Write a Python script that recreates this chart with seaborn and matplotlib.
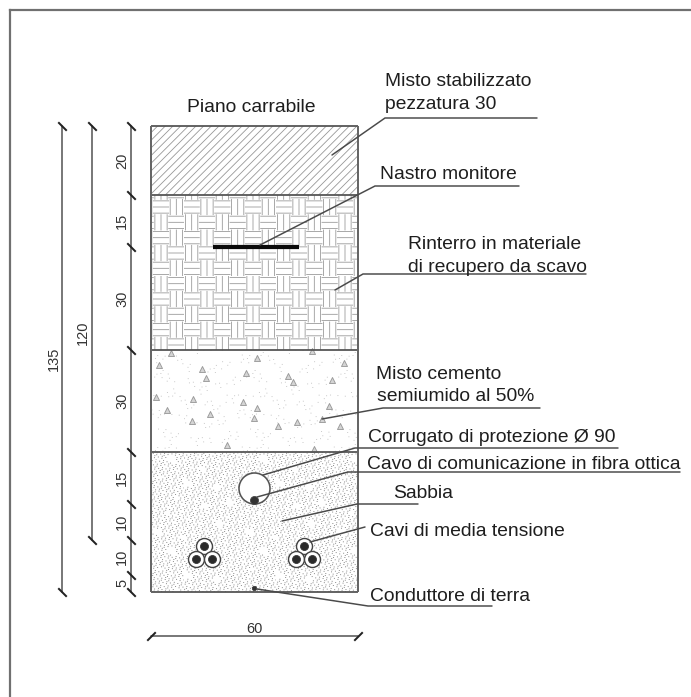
import numpy as np
import pandas as pd
import matplotlib
matplotlib.use("Agg")
import matplotlib.pyplot as plt
import matplotlib.hatch as mh
from matplotlib.path import Path
from matplotlib.transforms import Affine2D
import seaborn as sns

# ---- section data (cm) ----
layer_names = ["Misto stabilizzato", "Rinterro", "Misto cemento", "Sabbia"]
layer_thickness = [20, 45, 29.5, 40.5]
layer_hatch = ["////", "*", "o", "O"]
layer_hatch_color = ["#979797", "#9a9a9a", "#c2c2c2", "#7c7c7c"]
section_width = 60

chain_labels = ["20", "15", "30", "30", "15", "10", "10", "5"]
chain_steps = [20, 15, 30, 29.5, 15, 10.5, 10, 5]
overall_dims = [135, 120]

tape_x = [18, 43]
tape_depth = [35, 35]

conduit_x = [29.9]
conduit_depth = [104.8]
fibre_x = [29.9]
fibre_depth = [108.4]
cable_x = [15.3, 13.0, 17.6, 44.3, 42.0, 46.7]
cable_depth = [121.7, 125.6, 125.6, 121.7, 125.6, 125.6]
earth_x = [29.9]
earth_depth = [134.0]

aggregate_x = [5.7, 2.3, 14.9, 15.8, 27.4, 30.6, 39.8, 41.1, 52.4, 56.0, 1.4, 12.1, 4.7,
               17.1, 11.8, 26.6, 30.6, 29.9, 36.9, 42.2, 51.6, 49.5, 54.8, 22.1, 47.2, 46.8]
aggregate_depth = [65.9, 69.3, 70.4, 72.9, 71.5, 67.2, 72.5, 74.3, 73.6, 68.6, 78.5, 79.1, 82.3,
                   83.5, 85.4, 79.9, 81.8, 84.5, 86.9, 85.7, 81.2, 85.0, 86.9, 92.5, 93.7, 65.2]

# ---- annotation layout (figure pixels, y down) ----
labels = [
    ("Piano carrabile", 187, 112), ("Misto stabilizzato", 385, 86), ("pezzatura 30", 385, 109),
    ("Nastro monitore", 380, 179), ("Rinterro in materiale", 408, 249),
    ("di recupero da scavo", 408, 272), ("Misto cemento", 376, 379),
    ("semiumido al 50%", 377, 401), ("Corrugato di protezione Ø 90", 368, 442),
    ("Cavo di comunicazione in fibra ottica", 367, 469), ("Sabbia", 393, 498),
    ("Cavi di media tensione", 370, 536), ("Conduttore di terra", 370, 601),
]
leaders = [
    [(332, 155), (385, 118), (537, 118)],
    [(260, 245), (375, 186), (519, 186)],
    [(335, 290), (363, 274), (586, 274)],
    [(322, 419), (383, 408), (540, 408)],
    [(263, 475), (355, 448), (618, 448)],
    [(257, 497), (348, 472), (680, 472)],
    [(282, 521), (357, 504), (418, 504)],
    [(310, 542), (365, 527)],
    [(257, 589), (368, 606), (492, 606)],
]

W, H, DPI = 691, 697, 92
PX_PER_CM = 3.45
X0, Y0 = 151, 126   # pixel position of the section's top-left corner
FRAME = 10
PT = 72 / DPI       # points per pixel


# ---- custom drawing-style hatches ----
class Weave(mh.HatchPatternBase):
    blocks = 6
    fracs = (0.1, 0.5, 0.9)

    def __init__(self, hatch, density):
        self.on = "*" in hatch
        self.num_lines = self.blocks ** 2 * len(self.fracs) if self.on else 0
        self.num_vertices = self.num_lines * 2

    def set_vertices_and_codes(self, vertices, codes):
        b = 1 / self.blocks
        k = 0
        for i in range(self.blocks):
            for j in range(self.blocks):
                for f in self.fracs:
                    if (i + j) % 2:
                        a, c = ((i + f) * b, j * b), ((i + f) * b, (j + 1) * b)
                    else:
                        a, c = (i * b, (j + f) * b), ((i + 1) * b, (j + f) * b)
                    vertices[k], vertices[k + 1] = a, c
                    codes[k], codes[k + 1] = Path.MOVETO, Path.LINETO
                    k += 2


def stipple_points(count, threshold):
    idx = np.arange(1, count + 1)
    x = (idx * 0.7548776662) % 1
    y = (idx * 0.5698402910) % 1
    t = 2 * np.pi
    cloud = (np.sin(t * 3 * x + 1) * np.cos(t * 2 * y) + np.sin(t * 5 * y + 2 * np.sin(t * x))
             + 0.6 * np.cos(t * (4 * x + 3 * y)))
    keep = cloud > threshold
    return x[keep], y[keep]


class Stipple(mh.HatchPatternBase):
    char = "O"
    count = 1000
    threshold = -1.7

    def __init__(self, hatch, density):
        self.on = self.char in hatch
        if self.on:
            self.px, self.py = stipple_points(self.count, self.threshold)
            self.num_lines = len(self.px)
        else:
            self.num_lines = 0
        self.num_vertices = self.num_lines * 2

    def set_vertices_and_codes(self, vertices, codes):
        vertices[0::2, 0], vertices[0::2, 1] = self.px, self.py
        vertices[1::2, 0], vertices[1::2, 1] = self.px + 0.002, self.py
        codes[0::2] = Path.MOVETO
        codes[1::2] = Path.LINETO


class Sparse(Stipple):
    char = "o"
    count = 320
    threshold = 0.3


mh._hatch_types[:] = [h for h in mh._hatch_types
                      if h.__name__ in ("HorizontalHatch", "VerticalHatch",
                                        "NorthEastHatch", "SouthEastHatch")] + [Weave, Stipple, Sparse]

sns.set_theme(style="white")
plt.rcParams["font.family"] = ["Liberation Sans", "DejaVu Sans"]
plt.rcParams["hatch.linewidth"] = 0.65

fig = plt.figure(figsize=(W / DPI, H / DPI), dpi=DPI, facecolor="white")
ax = fig.add_axes([FRAME / W, 0, (W - FRAME) / W, (H - FRAME) / H])

layers = pd.DataFrame({"name": layer_names, "thickness": layer_thickness})
layers["top"] = layers["thickness"].cumsum().shift(fill_value=0)

for _, row in layers.iterrows():
    sns.barplot(x=[section_width / 2], y=[row["thickness"]], bottom=row["top"],
                width=section_width, native_scale=True, color="white",
                saturation=1, errorbar=None, ax=ax, zorder=1)
for patch, hatch, col in zip(ax.patches, layer_hatch, layer_hatch_color):
    patch.set_hatch(hatch)
    patch.set_facecolor("white")
    patch.set_edgecolor(col)
    patch.set_linewidth(0)

ax.set_xlim((FRAME - X0) / PX_PER_CM, (W - X0) / PX_PER_CM)
ax.set_ylim((H - Y0) / PX_PER_CM, (FRAME - Y0) / PX_PER_CM)
ax.set_xlabel("")
ax.set_ylabel("")
ax.set_xticks([])
ax.set_yticks([])
for side in ("bottom", "right"):
    ax.spines[side].set_visible(False)
for side in ("left", "top"):
    ax.spines[side].set_color("#707070")
    ax.spines[side].set_linewidth(2.2 * PT)

# section outline and layer boundaries
boundaries = np.r_[0, np.cumsum(layer_thickness)]
ax.hlines(boundaries, 0, section_width, color="#555555", lw=1.8 * PT, zorder=3)
ax.vlines([0, section_width], 0, boundaries[-1], color="#666666", lw=2.0 * PT, zorder=3)

# aggregate in the cement layer
sns.scatterplot(x=aggregate_x, y=aggregate_depth, marker="^", s=(6 * PT) ** 2,
                facecolor="#d4d4d4", edgecolor="#9a9a9a", linewidth=0.7, ax=ax, zorder=2)

# warning tape
ax.plot(tape_x, tape_depth, color="#0a0a0a", lw=4.2 * PT, solid_capstyle="butt", zorder=4)


def discs(xs, ys, diameter_px, face, edge, lw_px, z=4):
    sns.scatterplot(x=xs, y=ys, s=(diameter_px * PT) ** 2, facecolor=face, edgecolor=edge,
                    linewidth=lw_px * PT, ax=ax, zorder=z, legend=False)


discs(conduit_x, conduit_depth, 31, "white", "#555555", 1.6)
discs(fibre_x, fibre_depth, 8, "#333333", "#444444", 0.8, 5)
discs(cable_x, cable_depth, 16, "white", "#444444", 1.4)
discs(cable_x, cable_depth, 8, "#2a2a2a", "#333333", 0.8, 5)
discs(earth_x, earth_depth, 4.5, "#333333", "#333333", 0.6, 5)

# dimension lines
tick_v = Path([(-1, 1), (1, -1)])
tick_h = Path([(-1, -1), (1, 1)])
dim_kw = dict(color="#5a5a5a", lw=1.6 * PT, ms=8.5 * PT, mew=2.0 * PT, mec="#222222", zorder=3)
chain_depths = np.r_[0, np.cumsum(chain_steps)]
ax.plot([(131 - X0) / PX_PER_CM] * len(chain_depths), chain_depths, marker=tick_v, **dim_kw)
for total, px in zip(overall_dims, (62, 92)):
    ax.plot([(px - X0) / PX_PER_CM] * 2, [0, total], marker=tick_v, **dim_kw)
ax.plot([0, section_width], [(636 - Y0) / PX_PER_CM] * 2, marker=tick_h, **dim_kw)

dim_font = dict(fontsize=14.5 * PT, color="#333333", rotation=90, ha="center", va="center")
for lab, mid in zip(chain_labels, (chain_depths[:-1] + chain_depths[1:]) / 2):
    ax.text((122 - X0) / PX_PER_CM, mid, lab, **dim_font)
ax.text((83 - X0) / PX_PER_CM, 60, "120", **dim_font)
ax.text((54 - X0) / PX_PER_CM, 67.5, "135", **dim_font)
ax.text(section_width / 2, (629 - Y0) / PX_PER_CM, "60", fontsize=14.5 * PT,
        color="#333333", ha="center", va="center")

# leaders and labels, placed in figure pixels
to_px = Affine2D().scale(1, -1).translate(0, H)
for pts in leaders:
    xs, ys = zip(*pts)
    ax.plot(xs, ys, color="#4a4a4a", lw=1.5 * PT, transform=to_px, zorder=6, solid_joinstyle="miter")
for text, x, y in labels:
    ax.text(x, y, text, transform=to_px, fontsize=19.2 * PT, color="#1e1e1e",
            ha="left", va="baseline", zorder=7)

fig.savefig("out.png", dpi=DPI, facecolor="white")
